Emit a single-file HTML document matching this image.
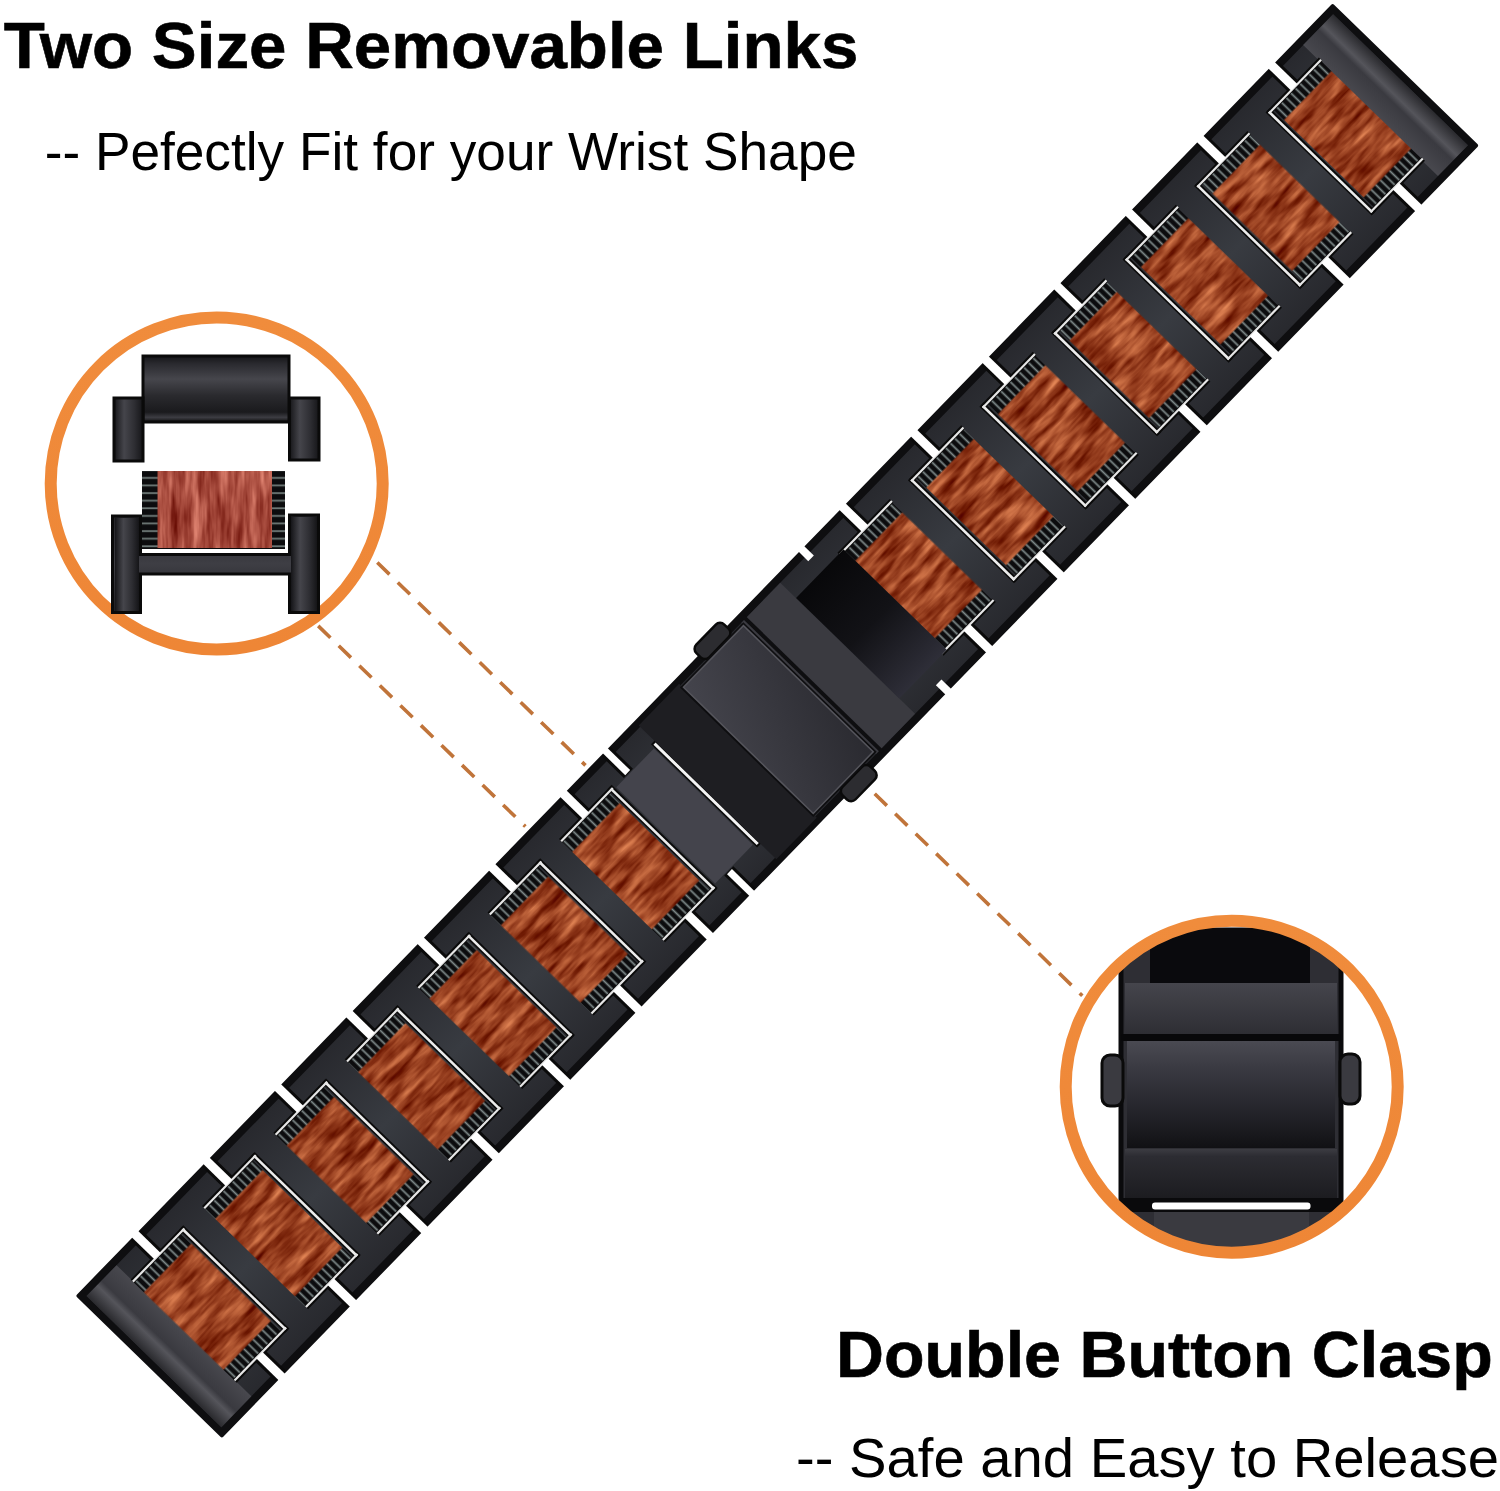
<!DOCTYPE html><html><head><meta charset="utf-8"><style>html,body{margin:0;padding:0;background:#fff;}svg{display:block}</style></head><body>
<svg width="1500" height="1491" viewBox="0 0 1500 1491">
<defs>
<filter id="wood" x="0" y="0" width="100%" height="100%" filterUnits="objectBoundingBox" primitiveUnits="userSpaceOnUse" color-interpolation-filters="sRGB">
<feTurbulence type="fractalNoise" baseFrequency="0.025 0.13" numOctaves="3" seed="7" result="n"/>
<feColorMatrix in="n" type="matrix" values="0 0 0 0.7 0.25  0 0 0 0.65 -0.07  0 0 0 0.5 -0.12  0 0 0 0 1" result="c"/>
<feComposite in="c" in2="SourceAlpha" operator="in"/>
</filter>
<filter id="wood2" x="0" y="0" width="100%" height="100%" filterUnits="objectBoundingBox" primitiveUnits="userSpaceOnUse" color-interpolation-filters="sRGB">
<feTurbulence type="fractalNoise" baseFrequency="0.14 0.02" numOctaves="3" seed="3" result="n"/>
<feColorMatrix in="n" type="matrix" values="0 0 0 0.6 0.36  0 0 0 0.6 0.0  0 0 0 0.55 -0.03  0 0 0 0 1" result="c"/>
<feComposite in="c" in2="SourceAlpha" operator="in"/>
</filter>
<pattern id="teeth2" patternUnits="userSpaceOnUse" width="20" height="7.6" x="0" y="472">
<rect width="20" height="7.6" fill="#0c0c0e"/><rect y="5" width="20" height="1.8" fill="#6f7a78"/>
</pattern>
<clipPath id="rc"><circle cx="1231.7" cy="1086.7" r="163"/></clipPath>
<linearGradient id="metal" x1="0" y1="0" x2="0" y2="1">
<stop offset="0" stop-color="#28292e"/><stop offset="0.5" stop-color="#383b41"/><stop offset="1" stop-color="#28292e"/>
</linearGradient>
<linearGradient id="endg" x1="0" y1="0" x2="1" y2="0">
<stop offset="0" stop-color="#2a2a2e"/><stop offset="0.35" stop-color="#55555b"/><stop offset="0.5" stop-color="#3a3a40"/><stop offset="1" stop-color="#48484e"/>
</linearGradient>
<linearGradient id="endg2" x1="1" y1="0" x2="0" y2="0">
<stop offset="0" stop-color="#2a2a2e"/><stop offset="0.35" stop-color="#55555b"/><stop offset="0.5" stop-color="#3a3a40"/><stop offset="1" stop-color="#48484e"/>
</linearGradient>
<linearGradient id="cover" x1="0" y1="0" x2="1" y2="1">
<stop offset="0" stop-color="#44444c"/><stop offset="1" stop-color="#2a2a30"/>
</linearGradient>
<linearGradient id="recess" x1="0" y1="0" x2="0" y2="1">
<stop offset="0" stop-color="#08080a"/><stop offset="0.5" stop-color="#121216"/><stop offset="1" stop-color="#2e2e38"/>
</linearGradient>
<pattern id="teeth" patternUnits="userSpaceOnUse" width="6.6" height="20" x="0" y="0">
<rect width="6.6" height="20" fill="#0c0c0e"/><rect x="4.3" width="1.8" height="20" fill="#7d8888"/>
</pattern>
<linearGradient id="ring" x1="0" y1="0" x2="0" y2="1"><stop offset="0" stop-color="#f08c3c"/><stop offset="1" stop-color="#ee8636"/></linearGradient>
</defs>
<rect width="1500" height="1491" fill="#ffffff"/>
<g transform="translate(149.8,1365.9) rotate(-45.8)">
<rect x="-1.5" y="-102" width="1803" height="204" rx="2" fill="#0e0e10"/>
<rect x="6" y="-94" width="1788" height="188" fill="url(#metal)"/>
<rect x="6" y="-94" width="43" height="188" fill="url(#endg)"/>
<rect x="1751" y="-94" width="43" height="188" fill="url(#endg2)"/>
<rect x="48.599999999999994" y="-71" width="68.0" height="16" fill="url(#teeth)"/>
<rect x="48.599999999999994" y="55" width="68.0" height="16" fill="url(#teeth)"/>
<rect x="48.599999999999994" y="-55.5" width="68.0" height="111" fill="#96421f" filter="url(#wood)"/>
<rect x="118.1" y="-74" width="6" height="148" fill="#0a0a0a"/>
<rect x="48.599999999999994" y="-74" width="74.0" height="5" fill="#0a0a0a"/>
<rect x="48.599999999999994" y="69" width="74.0" height="5" fill="#0a0a0a"/>
<rect x="76.6" y="-101" width="15" height="31" fill="#0a0a0a"/>
<rect x="76.6" y="70" width="15" height="31" fill="#0a0a0a"/>
<rect x="119.6" y="-72" width="2.6" height="144" fill="#ececec"/>
<rect x="48.599999999999994" y="-72" width="74.0" height="2.2" fill="#e6e6e6"/>
<rect x="48.599999999999994" y="69.8" width="74.0" height="2.2" fill="#e6e6e6"/>
<rect x="79.6" y="-103" width="9" height="32" fill="#ffffff"/>
<rect x="79.6" y="71" width="9" height="32" fill="#ffffff"/>
<rect x="151.0" y="-71" width="68.0" height="16" fill="url(#teeth)"/>
<rect x="151.0" y="55" width="68.0" height="16" fill="url(#teeth)"/>
<rect x="151.0" y="-55.5" width="68.0" height="111" fill="#96421f" filter="url(#wood)"/>
<rect x="220.5" y="-74" width="6" height="148" fill="#0a0a0a"/>
<rect x="151.0" y="-74" width="74.0" height="5" fill="#0a0a0a"/>
<rect x="151.0" y="69" width="74.0" height="5" fill="#0a0a0a"/>
<rect x="179.0" y="-101" width="15" height="31" fill="#0a0a0a"/>
<rect x="179.0" y="70" width="15" height="31" fill="#0a0a0a"/>
<rect x="222.0" y="-72" width="2.6" height="144" fill="#ececec"/>
<rect x="151.0" y="-72" width="74.0" height="2.2" fill="#e6e6e6"/>
<rect x="151.0" y="69.8" width="74.0" height="2.2" fill="#e6e6e6"/>
<rect x="182.0" y="-103" width="9" height="32" fill="#ffffff"/>
<rect x="182.0" y="71" width="9" height="32" fill="#ffffff"/>
<rect x="253.39999999999998" y="-71" width="68.0" height="16" fill="url(#teeth)"/>
<rect x="253.39999999999998" y="55" width="68.0" height="16" fill="url(#teeth)"/>
<rect x="253.39999999999998" y="-55.5" width="68.0" height="111" fill="#96421f" filter="url(#wood)"/>
<rect x="322.9" y="-74" width="6" height="148" fill="#0a0a0a"/>
<rect x="253.39999999999998" y="-74" width="74.0" height="5" fill="#0a0a0a"/>
<rect x="253.39999999999998" y="69" width="74.0" height="5" fill="#0a0a0a"/>
<rect x="281.4" y="-101" width="15" height="31" fill="#0a0a0a"/>
<rect x="281.4" y="70" width="15" height="31" fill="#0a0a0a"/>
<rect x="324.4" y="-72" width="2.6" height="144" fill="#ececec"/>
<rect x="253.39999999999998" y="-72" width="74.0" height="2.2" fill="#e6e6e6"/>
<rect x="253.39999999999998" y="69.8" width="74.0" height="2.2" fill="#e6e6e6"/>
<rect x="284.4" y="-103" width="9" height="32" fill="#ffffff"/>
<rect x="284.4" y="71" width="9" height="32" fill="#ffffff"/>
<rect x="355.8" y="-71" width="68.0" height="16" fill="url(#teeth)"/>
<rect x="355.8" y="55" width="68.0" height="16" fill="url(#teeth)"/>
<rect x="355.8" y="-55.5" width="68.0" height="111" fill="#96421f" filter="url(#wood)"/>
<rect x="425.3" y="-74" width="6" height="148" fill="#0a0a0a"/>
<rect x="355.8" y="-74" width="74.0" height="5" fill="#0a0a0a"/>
<rect x="355.8" y="69" width="74.0" height="5" fill="#0a0a0a"/>
<rect x="383.8" y="-101" width="15" height="31" fill="#0a0a0a"/>
<rect x="383.8" y="70" width="15" height="31" fill="#0a0a0a"/>
<rect x="426.8" y="-72" width="2.6" height="144" fill="#ececec"/>
<rect x="355.8" y="-72" width="74.0" height="2.2" fill="#e6e6e6"/>
<rect x="355.8" y="69.8" width="74.0" height="2.2" fill="#e6e6e6"/>
<rect x="386.8" y="-103" width="9" height="32" fill="#ffffff"/>
<rect x="386.8" y="71" width="9" height="32" fill="#ffffff"/>
<rect x="458.2" y="-71" width="68.00000000000006" height="16" fill="url(#teeth)"/>
<rect x="458.2" y="55" width="68.00000000000006" height="16" fill="url(#teeth)"/>
<rect x="458.2" y="-55.5" width="68.00000000000006" height="111" fill="#96421f" filter="url(#wood)"/>
<rect x="527.7" y="-74" width="6" height="148" fill="#0a0a0a"/>
<rect x="458.2" y="-74" width="74.00000000000006" height="5" fill="#0a0a0a"/>
<rect x="458.2" y="69" width="74.00000000000006" height="5" fill="#0a0a0a"/>
<rect x="486.2" y="-101" width="15" height="31" fill="#0a0a0a"/>
<rect x="486.2" y="70" width="15" height="31" fill="#0a0a0a"/>
<rect x="529.2" y="-72" width="2.6" height="144" fill="#ececec"/>
<rect x="458.2" y="-72" width="74.00000000000006" height="2.2" fill="#e6e6e6"/>
<rect x="458.2" y="69.8" width="74.00000000000006" height="2.2" fill="#e6e6e6"/>
<rect x="489.2" y="-103" width="9" height="32" fill="#ffffff"/>
<rect x="489.2" y="71" width="9" height="32" fill="#ffffff"/>
<rect x="560.6" y="-71" width="68.0" height="16" fill="url(#teeth)"/>
<rect x="560.6" y="55" width="68.0" height="16" fill="url(#teeth)"/>
<rect x="560.6" y="-55.5" width="68.0" height="111" fill="#96421f" filter="url(#wood)"/>
<rect x="630.1" y="-74" width="6" height="148" fill="#0a0a0a"/>
<rect x="560.6" y="-74" width="74.0" height="5" fill="#0a0a0a"/>
<rect x="560.6" y="69" width="74.0" height="5" fill="#0a0a0a"/>
<rect x="588.6" y="-101" width="15" height="31" fill="#0a0a0a"/>
<rect x="588.6" y="70" width="15" height="31" fill="#0a0a0a"/>
<rect x="631.6" y="-72" width="2.6" height="144" fill="#ececec"/>
<rect x="560.6" y="-72" width="74.0" height="2.2" fill="#e6e6e6"/>
<rect x="560.6" y="69.8" width="74.0" height="2.2" fill="#e6e6e6"/>
<rect x="591.6" y="-103" width="9" height="32" fill="#ffffff"/>
<rect x="591.6" y="71" width="9" height="32" fill="#ffffff"/>
<rect x="663.0" y="-71" width="68.0" height="16" fill="url(#teeth)"/>
<rect x="663.0" y="55" width="68.0" height="16" fill="url(#teeth)"/>
<rect x="663.0" y="-55.5" width="68.0" height="111" fill="#96421f" filter="url(#wood)"/>
<rect x="732.5" y="-74" width="6" height="148" fill="#0a0a0a"/>
<rect x="663.0" y="-74" width="74.0" height="5" fill="#0a0a0a"/>
<rect x="663.0" y="69" width="74.0" height="5" fill="#0a0a0a"/>
<rect x="691.0" y="-101" width="15" height="31" fill="#0a0a0a"/>
<rect x="691.0" y="70" width="15" height="31" fill="#0a0a0a"/>
<rect x="734.0" y="-72" width="2.6" height="144" fill="#ececec"/>
<rect x="663.0" y="-72" width="74.0" height="2.2" fill="#e6e6e6"/>
<rect x="663.0" y="69.8" width="74.0" height="2.2" fill="#e6e6e6"/>
<rect x="694.0" y="-103" width="9" height="32" fill="#ffffff"/>
<rect x="694.0" y="71" width="9" height="32" fill="#ffffff"/>
<rect x="1068.4" y="-71" width="68.0" height="16" fill="url(#teeth)"/>
<rect x="1068.4" y="55" width="68.0" height="16" fill="url(#teeth)"/>
<rect x="1068.4" y="-55.5" width="68.0" height="111" fill="#96421f" filter="url(#wood)"/>
<rect x="1062.4" y="-74" width="75.0" height="5" fill="#0a0a0a"/>
<rect x="1062.4" y="69" width="75.0" height="5" fill="#0a0a0a"/>
<rect x="1091.4" y="-101" width="15" height="31" fill="#0a0a0a"/>
<rect x="1091.4" y="70" width="15" height="31" fill="#0a0a0a"/>
<rect x="1062.4" y="-72" width="75.0" height="2.2" fill="#e6e6e6"/>
<rect x="1062.4" y="69.8" width="75.0" height="2.2" fill="#e6e6e6"/>
<rect x="1094.4" y="-103" width="9" height="32" fill="#ffffff"/>
<rect x="1094.4" y="71" width="9" height="32" fill="#ffffff"/>
<rect x="1171.0" y="-71" width="68.0" height="16" fill="url(#teeth)"/>
<rect x="1171.0" y="55" width="68.0" height="16" fill="url(#teeth)"/>
<rect x="1171.0" y="-55.5" width="68.0" height="111" fill="#96421f" filter="url(#wood)"/>
<rect x="1163.5" y="-74" width="6" height="148" fill="#0a0a0a"/>
<rect x="1165.0" y="-74" width="75.0" height="5" fill="#0a0a0a"/>
<rect x="1165.0" y="69" width="75.0" height="5" fill="#0a0a0a"/>
<rect x="1194.0" y="-101" width="15" height="31" fill="#0a0a0a"/>
<rect x="1194.0" y="70" width="15" height="31" fill="#0a0a0a"/>
<rect x="1165.0" y="-72" width="2.6" height="144" fill="#ececec"/>
<rect x="1165.0" y="-72" width="75.0" height="2.2" fill="#e6e6e6"/>
<rect x="1165.0" y="69.8" width="75.0" height="2.2" fill="#e6e6e6"/>
<rect x="1197.0" y="-103" width="9" height="32" fill="#ffffff"/>
<rect x="1197.0" y="71" width="9" height="32" fill="#ffffff"/>
<rect x="1273.6" y="-71" width="68.0" height="16" fill="url(#teeth)"/>
<rect x="1273.6" y="55" width="68.0" height="16" fill="url(#teeth)"/>
<rect x="1273.6" y="-55.5" width="68.0" height="111" fill="#96421f" filter="url(#wood)"/>
<rect x="1266.1" y="-74" width="6" height="148" fill="#0a0a0a"/>
<rect x="1267.6" y="-74" width="75.0" height="5" fill="#0a0a0a"/>
<rect x="1267.6" y="69" width="75.0" height="5" fill="#0a0a0a"/>
<rect x="1296.6" y="-101" width="15" height="31" fill="#0a0a0a"/>
<rect x="1296.6" y="70" width="15" height="31" fill="#0a0a0a"/>
<rect x="1267.6" y="-72" width="2.6" height="144" fill="#ececec"/>
<rect x="1267.6" y="-72" width="75.0" height="2.2" fill="#e6e6e6"/>
<rect x="1267.6" y="69.8" width="75.0" height="2.2" fill="#e6e6e6"/>
<rect x="1299.6" y="-103" width="9" height="32" fill="#ffffff"/>
<rect x="1299.6" y="71" width="9" height="32" fill="#ffffff"/>
<rect x="1376.2" y="-71" width="68.0" height="16" fill="url(#teeth)"/>
<rect x="1376.2" y="55" width="68.0" height="16" fill="url(#teeth)"/>
<rect x="1376.2" y="-55.5" width="68.0" height="111" fill="#96421f" filter="url(#wood)"/>
<rect x="1368.7" y="-74" width="6" height="148" fill="#0a0a0a"/>
<rect x="1370.2" y="-74" width="75.0" height="5" fill="#0a0a0a"/>
<rect x="1370.2" y="69" width="75.0" height="5" fill="#0a0a0a"/>
<rect x="1399.2" y="-101" width="15" height="31" fill="#0a0a0a"/>
<rect x="1399.2" y="70" width="15" height="31" fill="#0a0a0a"/>
<rect x="1370.2" y="-72" width="2.6" height="144" fill="#ececec"/>
<rect x="1370.2" y="-72" width="75.0" height="2.2" fill="#e6e6e6"/>
<rect x="1370.2" y="69.8" width="75.0" height="2.2" fill="#e6e6e6"/>
<rect x="1402.2" y="-103" width="9" height="32" fill="#ffffff"/>
<rect x="1402.2" y="71" width="9" height="32" fill="#ffffff"/>
<rect x="1478.8" y="-71" width="68.0" height="16" fill="url(#teeth)"/>
<rect x="1478.8" y="55" width="68.0" height="16" fill="url(#teeth)"/>
<rect x="1478.8" y="-55.5" width="68.0" height="111" fill="#96421f" filter="url(#wood)"/>
<rect x="1471.3" y="-74" width="6" height="148" fill="#0a0a0a"/>
<rect x="1472.8" y="-74" width="75.0" height="5" fill="#0a0a0a"/>
<rect x="1472.8" y="69" width="75.0" height="5" fill="#0a0a0a"/>
<rect x="1501.8" y="-101" width="15" height="31" fill="#0a0a0a"/>
<rect x="1501.8" y="70" width="15" height="31" fill="#0a0a0a"/>
<rect x="1472.8" y="-72" width="2.6" height="144" fill="#ececec"/>
<rect x="1472.8" y="-72" width="75.0" height="2.2" fill="#e6e6e6"/>
<rect x="1472.8" y="69.8" width="75.0" height="2.2" fill="#e6e6e6"/>
<rect x="1504.8" y="-103" width="9" height="32" fill="#ffffff"/>
<rect x="1504.8" y="71" width="9" height="32" fill="#ffffff"/>
<rect x="1581.4" y="-71" width="68.0" height="16" fill="url(#teeth)"/>
<rect x="1581.4" y="55" width="68.0" height="16" fill="url(#teeth)"/>
<rect x="1581.4" y="-55.5" width="68.0" height="111" fill="#96421f" filter="url(#wood)"/>
<rect x="1573.9" y="-74" width="6" height="148" fill="#0a0a0a"/>
<rect x="1575.4" y="-74" width="75.0" height="5" fill="#0a0a0a"/>
<rect x="1575.4" y="69" width="75.0" height="5" fill="#0a0a0a"/>
<rect x="1604.4" y="-101" width="15" height="31" fill="#0a0a0a"/>
<rect x="1604.4" y="70" width="15" height="31" fill="#0a0a0a"/>
<rect x="1575.4" y="-72" width="2.6" height="144" fill="#ececec"/>
<rect x="1575.4" y="-72" width="75.0" height="2.2" fill="#e6e6e6"/>
<rect x="1575.4" y="69.8" width="75.0" height="2.2" fill="#e6e6e6"/>
<rect x="1607.4" y="-103" width="9" height="32" fill="#ffffff"/>
<rect x="1607.4" y="71" width="9" height="32" fill="#ffffff"/>
<rect x="1684.0" y="-71" width="68.0" height="16" fill="url(#teeth)"/>
<rect x="1684.0" y="55" width="68.0" height="16" fill="url(#teeth)"/>
<rect x="1684.0" y="-55.5" width="68.0" height="111" fill="#96421f" filter="url(#wood)"/>
<rect x="1676.5" y="-74" width="6" height="148" fill="#0a0a0a"/>
<rect x="1678.0" y="-74" width="75.0" height="5" fill="#0a0a0a"/>
<rect x="1678.0" y="69" width="75.0" height="5" fill="#0a0a0a"/>
<rect x="1707.0" y="-101" width="15" height="31" fill="#0a0a0a"/>
<rect x="1707.0" y="70" width="15" height="31" fill="#0a0a0a"/>
<rect x="1678.0" y="-72" width="2.6" height="144" fill="#ececec"/>
<rect x="1678.0" y="-72" width="75.0" height="2.2" fill="#e6e6e6"/>
<rect x="1678.0" y="69.8" width="75.0" height="2.2" fill="#e6e6e6"/>
<rect x="1710.0" y="-103" width="9" height="32" fill="#ffffff"/>
<rect x="1710.0" y="71" width="9" height="32" fill="#ffffff"/>
<rect x="752" y="-101" width="13" height="31" fill="#0a0a0a"/>
<rect x="752" y="70" width="13" height="31" fill="#0a0a0a"/>
<rect x="755" y="-103" width="7" height="32" fill="#ffffff"/>
<rect x="755" y="71" width="7" height="32" fill="#ffffff"/>
<rect x="740" y="-69" width="54" height="138" fill="#44444c"/>
<rect x="795" y="-74" width="6" height="148" fill="#0a0a0a"/>
<rect x="796.5" y="-72" width="3" height="144" fill="#f4f4f4"/>
<rect x="800" y="-96" width="58" height="192" fill="#1e1e22"/>
<rect x="945" y="-94" width="56" height="188" fill="#3a3a40"/>
<rect x="949" y="-97.5" width="4" height="195" fill="#0e0e10"/>
<rect x="1001" y="-72" width="68" height="144" fill="url(#recess)"/>
<rect x="1036" y="-103" width="8" height="14" fill="#ffffff"/>
<rect x="1036" y="89" width="8" height="14" fill="#ffffff"/>
<rect x="892" y="-111" width="40" height="18" rx="6" fill="#2c2c30" stroke="#0a0a0a" stroke-width="2.5"/>
<rect x="892" y="93" width="40" height="18" rx="6" fill="#2c2c30" stroke="#0a0a0a" stroke-width="2.5"/>
<rect x="856" y="-93" width="91" height="186" fill="#0e0e10"/>
<rect x="858.6" y="-90.5" width="86" height="181" fill="url(#cover)" stroke="#55555c" stroke-width="1.5"/>
</g>
<circle cx="216.7" cy="483.5" r="166" fill="none" stroke="url(#ring)" stroke-width="12"/>
<line x1="377.3" y1="562.5" x2="585.5" y2="765.4" stroke="#c0743a" stroke-width="3.6" stroke-dasharray="17 11.6" stroke-linecap="butt"/>
<line x1="318.2" y1="625.9" x2="525.4" y2="826.5" stroke="#c0743a" stroke-width="3.6" stroke-dasharray="17 11.6" stroke-linecap="butt"/>
<line x1="874.7" y1="793.8" x2="1082.3" y2="995.7" stroke="#c0743a" stroke-width="3.6" stroke-dasharray="17 11.6" stroke-linecap="butt"/>
<defs>
<linearGradient id="cyl" x1="0" y1="0" x2="0" y2="1">
<stop offset="0" stop-color="#151518"/><stop offset="0.12" stop-color="#2a2a2f"/><stop offset="0.35" stop-color="#46464c"/><stop offset="0.6" stop-color="#2a2a2e"/><stop offset="0.85" stop-color="#1a1a1d"/><stop offset="0.93" stop-color="#3c3c42"/><stop offset="1" stop-color="#111"/>
</linearGradient>
<linearGradient id="leg" x1="0" y1="0" x2="1" y2="0">
<stop offset="0" stop-color="#151518"/><stop offset="0.35" stop-color="#45454b"/><stop offset="0.7" stop-color="#2e2e33"/><stop offset="1" stop-color="#151518"/>
</linearGradient>
<linearGradient id="hbar" x1="0" y1="0" x2="0" y2="1">
<stop offset="0" stop-color="#222226"/><stop offset="0.5" stop-color="#3e3e44"/><stop offset="1" stop-color="#1e1e22"/>
</linearGradient>
</defs>
<g>
<rect x="143" y="356" width="146" height="66" fill="url(#cyl)" stroke="#0a0a0a" stroke-width="3"/>
<rect x="114" y="398" width="29" height="63" fill="url(#leg)" stroke="#0a0a0a" stroke-width="3"/>
<rect x="289.5" y="398" width="29.5" height="62" fill="url(#leg)" stroke="#0a0a0a" stroke-width="3"/>
<path d="M139 514 V553 H292 V514" fill="none" stroke="#ffffff" stroke-width="2"/>
<rect x="142" y="471" width="143" height="78" fill="url(#teeth2)"/>
<rect x="157.5" y="471" width="114.5" height="77" fill="#a8503e" filter="url(#wood2)"/>
<path d="M112.5 516 H140.5 V554.5 H289.5 V515 H318.5 V612.5 H289.5 V574 H140.5 V612.5 H112.5 Z" fill="url(#hbar)" stroke="#0a0a0a" stroke-width="3"/>
<rect x="115" y="518" width="24" height="93" fill="url(#leg)"/>
<rect x="291" y="517" width="26" height="94" fill="url(#leg)"/>
</g>
<defs>
<linearGradient id="rcov" x1="0" y1="0" x2="0" y2="1">
<stop offset="0" stop-color="#4a4a52"/><stop offset="0.25" stop-color="#3a3a42"/><stop offset="0.7" stop-color="#222228"/><stop offset="1" stop-color="#111114"/>
</linearGradient>
<linearGradient id="rlow" x1="0" y1="0" x2="0" y2="1">
<stop offset="0" stop-color="#3c3c42"/><stop offset="0.15" stop-color="#2c2c32"/><stop offset="1" stop-color="#1c1c20"/>
</linearGradient>
<linearGradient id="rup" x1="0" y1="0" x2="0" y2="1">
<stop offset="0" stop-color="#45454c"/><stop offset="1" stop-color="#2e2e34"/>
</linearGradient>
</defs>
<g clip-path="url(#rc)">
<rect x="1121" y="930" width="220" height="330" fill="#2e2e34" stroke="#0a0a0c" stroke-width="5"/>
<rect x="1125" y="983" width="212" height="51" fill="url(#rup)"/>
<rect x="1121" y="1034" width="220" height="7" fill="#08080a"/>
<rect x="1121" y="1198" width="220" height="14" fill="#0a0a0c"/>
<rect x="1150" y="930" width="160" height="53" fill="#0a0a0d"/>
<rect x="1127" y="1041" width="208" height="107" fill="url(#rcov)"/>
<rect x="1125" y="1149" width="212" height="49" fill="url(#rlow)"/>
<rect x="1152" y="1202.5" width="158.5" height="7" rx="3" fill="#ffffff"/>
<rect x="1154" y="1212" width="155" height="50" fill="#3a3a40"/>
</g>
<circle cx="1231.7" cy="1086.7" r="166" fill="none" stroke="url(#ring)" stroke-width="12"/>
<rect x="1102" y="1055" width="21" height="51" rx="8" fill="#3a3a40" stroke="#0a0a0a" stroke-width="3"/>
<rect x="1340" y="1054" width="20" height="50" rx="8" fill="#3a3a40" stroke="#0a0a0a" stroke-width="3"/>

<text x="3.7" y="68.4" font-family="Liberation Sans, sans-serif" font-weight="bold" font-size="65" textLength="854.7" lengthAdjust="spacingAndGlyphs" fill="#000" stroke="#000" stroke-width="0.6">Two Size Removable Links</text>
<text x="44.7" y="170.4" font-family="Liberation Sans, sans-serif" font-size="53" textLength="812.2" lengthAdjust="spacingAndGlyphs" fill="#000">-- Pefectly Fit for your Wrist Shape</text>
<text x="836" y="1376.7" font-family="Liberation Sans, sans-serif" font-weight="bold" font-size="65" textLength="656.7" lengthAdjust="spacingAndGlyphs" fill="#000" stroke="#000" stroke-width="0.6">Double Button Clasp</text>
<text x="796" y="1477" font-family="Liberation Sans, sans-serif" font-size="56" textLength="703" lengthAdjust="spacingAndGlyphs" fill="#000">-- Safe and Easy to Release</text>
</svg></body></html>
